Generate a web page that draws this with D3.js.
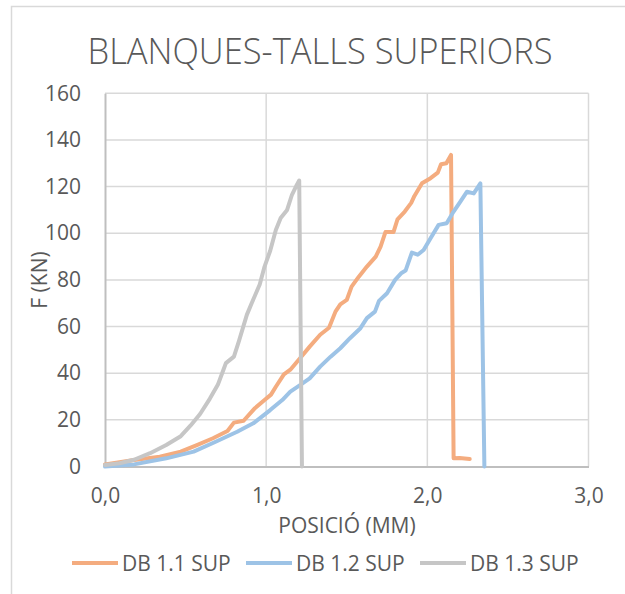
<!DOCTYPE html>
<html>
<head>
<meta charset="utf-8">
<script src="https://cdn.jsdelivr.net/npm/d3@7"></script>
<style>
  html, body { margin: 0; padding: 0; background: #ffffff; }
  svg { display: block; font-family: "Open Sans", "Noto Sans", sans-serif; }
</style>
</head>
<body>
<svg id="chart" width="625" height="594"></svg>
<script>
// Force vs. crosshead position for three upper-cut blank tests
const seriesNames = ["DB 1.1 SUP", "DB 1.2 SUP", "DB 1.3 SUP"];

const pos11 = [0, 0.18, 0.34, 0.47, 0.57, 0.67, 0.76, 0.80, 0.86, 0.93, 0.99, 1.03, 1.06, 1.11, 1.15, 1.21, 1.27, 1.335, 1.39, 1.43, 1.46, 1.50, 1.53, 1.575, 1.625, 1.68, 1.71, 1.74, 1.79, 1.815, 1.86, 1.90, 1.92, 1.967, 2.02, 2.065, 2.085, 2.118, 2.147, 2.163, 2.20, 2.263];
const f11   = [0.9, 2.8, 4.2, 6.4, 9.2, 12.1, 15.2, 18.8, 19.6, 25.0, 28.5, 30.8, 34.2, 39.5, 41.5, 46.4, 51.4, 56.5, 59.5, 66.4, 69.5, 71.4, 77.1, 81.4, 85.7, 90.0, 94.3, 100.5, 100.5, 106.0, 109.3, 113.0, 116.0, 121.4, 123.6, 126.0, 129.6, 130.0, 133.6, 3.5, 3.6, 3.2];

const pos12 = [0, 0.18, 0.38, 0.55, 0.69, 0.82, 0.92, 1.025, 1.10, 1.15, 1.21, 1.27, 1.335, 1.40, 1.46, 1.52, 1.585, 1.625, 1.675, 1.70, 1.75, 1.80, 1.84, 1.865, 1.904, 1.94, 1.977, 2.02, 2.07, 2.12, 2.163, 2.205, 2.246, 2.288, 2.329, 2.354];
const f12   = [0, 0.9, 3.5, 6.4, 10.7, 14.9, 18.5, 24.2, 28.5, 32.1, 34.9, 37.8, 42.8, 47.1, 50.7, 55.0, 59.3, 63.6, 66.4, 71.0, 74.3, 80.0, 83.0, 84.0, 91.7, 90.8, 92.8, 97.9, 103.6, 104.3, 109.3, 113.6, 117.8, 117.1, 121.4, 0];

const pos13 = [0, 0.09, 0.18, 0.28, 0.38, 0.47, 0.53, 0.59, 0.65, 0.70, 0.735, 0.75, 0.80, 0.83, 0.88, 0.91, 0.96, 0.99, 1.025, 1.06, 1.09, 1.13, 1.16, 1.19, 1.205, 1.222];
const f13   = [0.6, 1.4, 2.9, 5.7, 9.2, 13.0, 17.5, 22.5, 29.0, 35.0, 41.5, 44.3, 47.1, 53.5, 65.0, 70.0, 78.0, 85.7, 92.5, 101.4, 106.5, 110.0, 116.5, 120.7, 122.6, 0];

const xTicks = [0, 1, 2, 3];
const yTicks = [0, 20, 40, 60, 80, 100, 120, 140, 160];

const colors = ["#F4AC7F", "#9DC3E6", "#C6C6C6"];

const series = [
  { name: seriesNames[0], x: pos11, y: f11, color: colors[0] },
  { name: seriesNames[1], x: pos12, y: f12, color: colors[1] },
  { name: seriesNames[2], x: pos13, y: f13, color: colors[2] }
];

const svg = d3.select("#chart");
const textColor = "#595959";
const labelSize = 21;

// outer chart frame
svg.append("rect")
  .attr("x", 11.5).attr("y", 6.5)
  .attr("width", 800).attr("height", 800)
  .attr("fill", "none").attr("stroke", "#D9D9D9").attr("stroke-width", 1.5);

const plot = { left: 105, right: 588.5, top: 93.3, bottom: 466.5 };

const x = d3.scaleLinear().domain([0, 3]).range([plot.left, plot.right]);
const y = d3.scaleLinear().domain([0, 160]).range([plot.bottom, plot.top]);

// title
svg.append("text")
  .attr("x", 320).attr("y", 64)
  .attr("text-anchor", "middle")
  .attr("font-size", 36).attr("font-weight", 300)
  .attr("fill", textColor)
  .attr("textLength", 465).attr("lengthAdjust", "spacingAndGlyphs")
  .text("BLANQUES-TALLS SUPERIORS");

// horizontal gridlines
svg.append("g")
  .selectAll("line")
  .data(yTicks.filter(d => d > 0))
  .join("line")
  .attr("x1", plot.left).attr("x2", plot.right)
  .attr("y1", d => y(d)).attr("y2", d => y(d))
  .attr("stroke", "#D9D9D9").attr("stroke-width", 1.5);

// vertical gridlines
svg.append("g")
  .selectAll("line")
  .data(xTicks.filter(d => d > 0))
  .join("line")
  .attr("x1", d => x(d)).attr("x2", d => x(d))
  .attr("y1", plot.top).attr("y2", plot.bottom)
  .attr("stroke", "#D9D9D9").attr("stroke-width", 1.5);

// axes
const yAxis = d3.axisLeft(y).tickValues(yTicks).tickSize(0).tickPadding(24).tickFormat(d3.format("d"));
const xAxis = d3.axisBottom(x).tickValues(xTicks).tickSize(0).tickPadding(22).tickFormat(d => d3.format(".1f")(d).replace(".", ","));

const gy = svg.append("g").attr("transform", `translate(${plot.left},0)`).call(yAxis);
const gx = svg.append("g").attr("transform", `translate(0,${plot.bottom})`).call(xAxis);

[gx, gy].forEach(g => {
  g.select(".domain").attr("stroke", "#BFBFBF").attr("stroke-width", 2);
  g.selectAll("text")
    .attr("font-family", "\"Open Sans\", sans-serif")
    .attr("font-size", labelSize).attr("fill", textColor);
});

// axis titles
svg.append("text")
  .attr("x", 347).attr("y", 533)
  .attr("text-anchor", "middle")
  .attr("font-size", labelSize).attr("fill", textColor)
  .text("POSICIÓ (MM)");

svg.append("text")
  .attr("transform", "translate(47,280) rotate(-90)")
  .attr("text-anchor", "middle")
  .attr("font-size", labelSize).attr("fill", textColor)
  .text("F (KN)");

// series lines
const line = d3.line()
  .x(d => x(d[0]))
  .y(d => y(d[1]));

svg.append("g")
  .selectAll("path")
  .data(series)
  .join("path")
  .attr("d", s => line(d3.zip(s.x, s.y)))
  .attr("fill", "none")
  .attr("stroke", s => s.color)
  .attr("stroke-width", 4)
  .attr("stroke-linejoin", "round")
  .attr("stroke-linecap", "round");

// legend
const legendX = [72, 246, 420];
const legend = svg.append("g")
  .selectAll("g")
  .data(series)
  .join("g")
  .attr("transform", (s, i) => `translate(${legendX[i]},563)`);

legend.append("line")
  .attr("x1", 0).attr("x2", 46)
  .attr("y1", 0).attr("y2", 0)
  .attr("stroke", s => s.color).attr("stroke-width", 4);

legend.append("text")
  .attr("x", 50).attr("y", 7.5)
  .attr("font-size", labelSize).attr("fill", textColor)
  .text(s => s.name);
</script>
</body>
</html>
